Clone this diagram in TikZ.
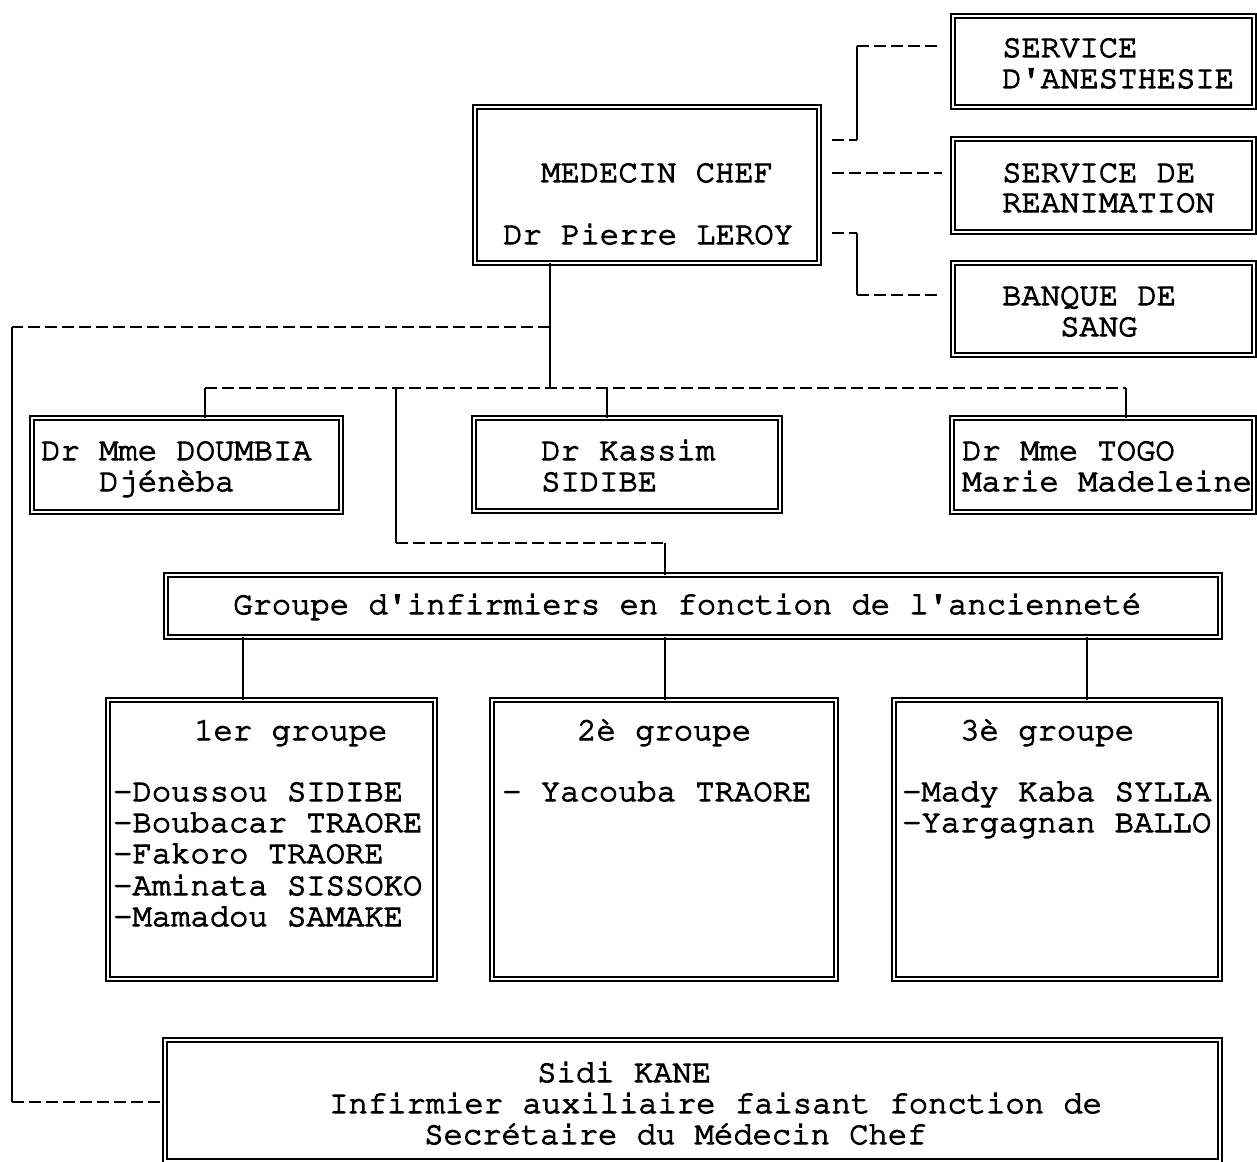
\documentclass[tikz,border=0pt]{standalone}
\usepackage[T1]{fontenc}
\usetikzlibrary{fit}
\newcommand\heavytext{\special{pdf:literal direct 2 Tr 1.1 w}}
\newcommand\plaintext{\special{pdf:literal direct 0 Tr}}
\begin{document}
\begin{tikzpicture}[x=1pt,y=-1pt,
  box/.style={draw, double, line width=1.9pt, double distance=2.4pt, inner sep=0pt, outer sep=0pt},
  txt/.style={font=\fontfamily{pcr}\fontsize{32.2}{36}\selectfont\heavytext, inner sep=0pt, anchor=base west,
    execute at end node=\plaintext},
  hd/.style={line width=2.8pt, dash pattern=on 12pt off 5pt},
  vl/.style={line width=1.9pt}]
\useasboundingbox[fill=white] (0,0) rectangle (1257,1161);

% boxes
\node[box, fit={(953,16)(1254,107)}] (anst) {};
\node[box, fit={(953,139)(1254,232)}] (reani) {};
\node[box, fit={(953,263)(1254,355)}] (banq) {};
\node[box, fit={(475,107)(819,263)}] (med) {};
\node[box, fit={(32,418)(341,512)}] (doum) {};
\node[box, fit={(474,418)(780,511)}] (kass) {};
\node[box, fit={(952,418)(1254,512)}] (togo) {};
\node[box, fit={(166,575)(1220,637)}] (grp) {};
\node[box, fit={(108,700)(435,979)}] (g1) {};
\node[box, fit={(492,700)(836,979)}] (g2) {};
\node[box, fit={(894,700)(1220,979)}] (g3) {};
\node[box, fit={(165,1040)(1220,1161)}] (sidi) {};

% texts
\node[txt] (anst1) at (1002,57) {SERVICE};
\node[txt] (anst2) at (1002,88) {D\textquotesingle ANESTHESIE};
\node[txt] (reani1) at (1002,182) {SERVICE DE};
\node[txt] (reani2) at (1002,212) {REANIMATION};
\node[txt] (banq1) at (1002,305) {BANQUE DE};
\node[txt] (banq2) at (1060,336) {SANG};
\node[txt] (med1) at (541,182) {MEDECIN CHEF};
\node[txt] (med2) at (503,244) {Dr Pierre LEROY};
\node[txt] (doum1) at (41,460) {Dr Mme DOUMBIA};
\node[txt] (doum2) at (99,491) {Djénèba};
\node[txt] (kass1) at (541,460) {Dr Kassim};
\node[txt] (kass2) at (541,491) {SIDIBE};
\node[txt] (togo1) at (962,460) {Dr Mme TOGO};
\node[txt] (togo2) at (962,491) {Marie Madeleine};
\node[txt] (grpt) at (233,614) {Groupe d\textquotesingle infirmiers en fonction de l\textquotesingle ancienneté};
\node[txt] (g1h) at (194,740) {1er groupe};
\node[txt] (g1a) at (113,801) {-Doussou SIDIBE};
\node[txt] (g1b) at (113,832) {-Boubacar TRAORE};
\node[txt] (g1c) at (113,863) {-Fakoro TRAORE};
\node[txt] (g1d) at (113,895) {-Aminata SISSOKO};
\node[txt] (g1e) at (113,926) {-Mamadou SAMAKE};
\node[txt] (g2h) at (577,740) {2è groupe};
\node[txt] (g2a) at (502,801) {- Yacouba TRAORE};
\node[txt] (g3h) at (960,740) {3è groupe};
\node[txt] (g3a) at (902,801) {-Mady Kaba SYLLA};
\node[txt] (g3b) at (902,832) {-Yargagnan BALLO};
\node[txt] (sidi1) at (537,1082) {Sidi KANE};
\node[txt] (sidi2) at (329,1113) {Infirmier auxiliaire faisant fonction de};
\node[txt] (sidi3) at (424,1144) {Secrétaire du Médecin Chef};

% connectors: medecin chef to services
\coordinate (mb) at (857,140);
\coordinate (mc) at (857,46);
\draw[hd, shorten <=13pt] (med.east |- mb) -- (mb);
\draw[vl] (mb) -- (mc);
\draw[hd, shorten >=11pt] (mc) -- (mc -| anst.west);
\coordinate (mr) at (857,173);
\draw[hd, shorten <=13pt, shorten >=11pt] (med.east |- mr) -- (mr -| reani.west);
\coordinate (md) at (857,233);
\coordinate (me) at (857,295);
\draw[hd, shorten <=13pt] (med.east |- md) -- (md);
\draw[vl] (md) -- (me);
\draw[hd, shorten >=11pt] (me) -- (me -| banq.west);

% main trunk
\coordinate (s1) at (550,327);
\coordinate (s2) at (550,388);
\coordinate (l1) at (12,327);
\coordinate (l2) at (12,1102);
\draw[vl] (med.south -| s1) -- (s2);
\draw[hd] (s1) -- (l1);
\draw[vl] (l1) -- (l2);
\draw[hd] (l2) -- (l2 -| sidi.west);

% doctors bar
\coordinate (bL) at (205,388);
\coordinate (bR) at (1126,388);
\coordinate (bK) at (607,388);
\coordinate (bG) at (396,388);
\coordinate (bG2) at (396,543);
\coordinate (bG3) at (665,543);
\draw[hd] (bL) -- (bR);
\draw[vl] (bL) -- (bL |- doum.north);
\draw[vl] (bK) -- (bK |- kass.north);
\draw[vl] (bR) -- (bR |- togo.north);
\draw[vl] (bG) -- (bG2);
\draw[hd] (bG2) -- (bG3);
\draw[vl] (bG3) -- (bG3 |- grp.north);

% groups
\coordinate (x1) at (243,0);
\coordinate (x2) at (665,0);
\coordinate (x3) at (1087,0);
\draw[vl] (x1 |- grp.south) -- (x1 |- g1.north);
\draw[vl] (x2 |- grp.south) -- (x2 |- g2.north);
\draw[vl] (x3 |- grp.south) -- (x3 |- g3.north);
\end{tikzpicture}
\end{document}
